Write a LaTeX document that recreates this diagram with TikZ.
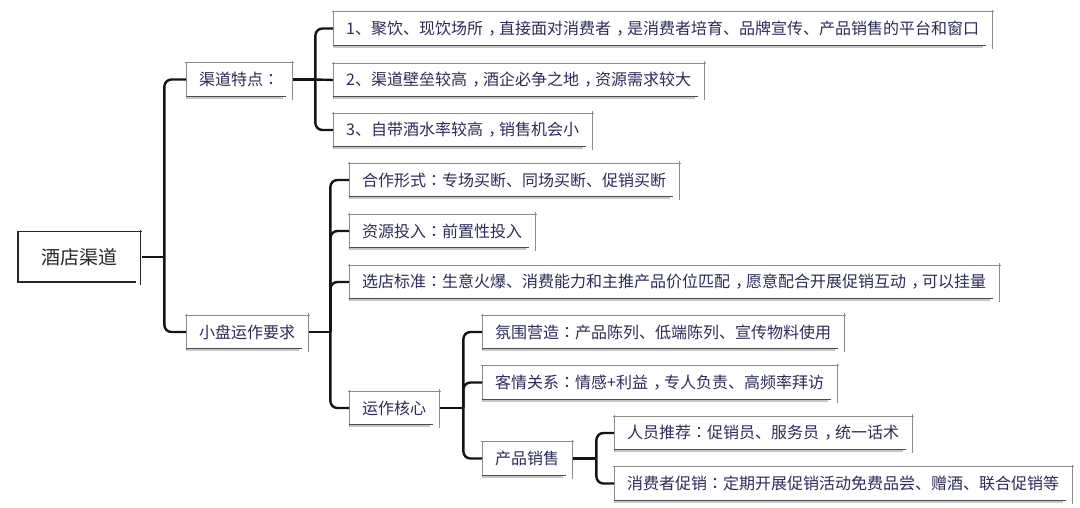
\documentclass[tikz,border=0pt]{standalone}
\usepackage{fontspec}
\setmainfont{Noto Sans CJK SC}
\newfontfamily\tcfont{Noto Sans CJK TC}
\newcommand\zcomma{\makebox[1em][l]{\hspace{0.33em}，}}
\newcommand\zcolon{{\tcfont ：}}
\usetikzlibrary{calc}
\definecolor{txt}{RGB}{44,44,88}
\definecolor{roottxt}{RGB}{40,40,40}
\newcommand\skbox[1]{%
  \draw[bshadow] ([yshift=-1.6pt]#1.south west) -- ([xshift=-9pt,yshift=-1.6pt]#1.south east);
  \draw[bline] ([xshift=-1pt]#1.north west) -- ([xshift=1.5pt]#1.north east);
  \draw[bline] ([yshift=1pt]#1.north west) -- ([yshift=-1pt]#1.south west);
  \draw[bline] ([yshift=2pt]#1.north east) -- ([yshift=-3.5pt]#1.south east);
  \draw[bbottom] (#1.south west) -- ([xshift=-6pt]#1.south east);
}
\newcommand\skroot[1]{%
  \draw[rline] ([xshift=-1pt]#1.north west) -- ([xshift=2pt]#1.north east);
  \draw[rline] ([yshift=1pt]#1.north west) -- ([yshift=-1pt]#1.south west);
  \draw[rline] ([yshift=2pt]#1.north east) -- ([yshift=-3pt]#1.south east);
  \draw[rline, line width=1.5pt] (#1.south west) -- ([xshift=-4pt]#1.south east);
}
\tikzset{
  bline/.style={draw=black!45, line width=0.8pt},
  bbottom/.style={draw=black!70, line width=1.1pt},
  bshadow/.style={draw=black!22, line width=2.2pt},
  rline/.style={draw=black!85, line width=1.1pt},
  leaf/.style={anchor=west, text=txt, inner xsep=13pt, inner ysep=0pt,
    minimum height=33pt, font=\fontsize{16}{19}\selectfont},
  rootbox/.style={anchor=west, text=roottxt, inner sep=0pt, minimum width=122pt,
    minimum height=50pt, font=\fontsize{19}{22}\selectfont},
  conn/.style={draw=black!92, line width=2.4pt, rounded corners=7pt}
}
\begin{document}
\begin{tikzpicture}[x=1pt,y=-1pt]
\useasboundingbox[fill=white] (0,0) rectangle (1080,507);
% nodes
\node[rootbox] (root) at (18,257) {酒店渠道};
\node[leaf] (qd) at (186,79.5) {渠道特点\zcolon};
\node[leaf] (t1) at (333,28.5) {1、聚饮、现饮场所\zcomma 直接面对消费者\zcomma 是消费者培育、品牌宣传、产品销售的平台和窗口};
\node[leaf] (t2) at (333,80) {2、渠道壁垒较高\zcomma 酒企必争之地\zcomma 资源需求较大};
\node[leaf] (t3) at (333,130) {3、自带酒水率较高\zcomma 销售机会小};
\node[leaf] (xp) at (186,332) {小盘运作要求};
\node[leaf] (h1) at (349,180) {合作形式\zcolon 专场买断、同场买断、促销买断};
\node[leaf] (h2) at (349,231) {资源投入\zcolon 前置性投入};
\node[leaf] (h3) at (349,282) {选店标准\zcolon 生意火爆、消费能力和主推产品价位匹配\zcomma 愿意配合开展促销互动\zcomma 可以挂量};
\node[leaf] (yz) at (349,408) {运作核心};
\node[leaf] (f1) at (482,332) {氛围营造\zcolon 产品陈列、低端陈列、宣传物料使用};
\node[leaf] (f2) at (482,382.5) {客情关系\zcolon 情感+利益\zcomma 专人负责、高频率拜访};
\node[leaf] (cp) at (482,458.5) {产品销售};
\node[leaf] (r1) at (614,433) {人员推荐\zcolon 促销员、服务员\zcomma 统一话术};
\node[leaf] (r2) at (614,483.5) {消费者促销\zcolon 定期开展促销活动免费品尝、赠酒、联合促销等};
% boxes
\skroot{root}
\foreach \n in {qd,t1,t2,t3,xp,h1,h2,h3,yz,f1,f2,cp,r1,r2} {\skbox{\n}}
% junctions
\coordinate (j1) at ($(root.east)+(24,0)$);
\coordinate (j2) at ($(qd.east)+(23,0)$);
\coordinate (j3) at ($(xp.east)+(22,0)$);
\coordinate (j4) at ($(yz.east)+(24,0)$);
\coordinate (j5) at ($(cp.east)+(24,0)$);
% connectors
\draw[conn] ([xshift=2pt]root.east) -- (j1);
\draw[conn] (j1) |- (qd.west);
\draw[conn] (j1) |- (xp.west);
\draw[conn] ([xshift=1pt]qd.east) -- (j2);
\draw[conn] (j2) |- (t1.west);
\draw[conn] (j2) -- (t2.west);
\draw[conn] (j2) |- (t3.west);
\draw[conn] ([xshift=1pt]xp.east) -- (j3);
\draw[conn] (j3) |- (h1.west);
\draw[conn] (j3) |- (h2.west);
\draw[conn] (j3) |- (h3.west);
\draw[conn] (j3) |- (yz.west);
\draw[conn] ([xshift=1pt]yz.east) -- (j4);
\draw[conn] (j4) |- (f1.west);
\draw[conn] (j4) |- (f2.west);
\draw[conn] (j4) |- (cp.west);
\draw[conn] ([xshift=1pt]cp.east) -- (j5);
\draw[conn] (j5) |- (r1.west);
\draw[conn] (j5) |- (r2.west);
\end{tikzpicture}
\end{document}
